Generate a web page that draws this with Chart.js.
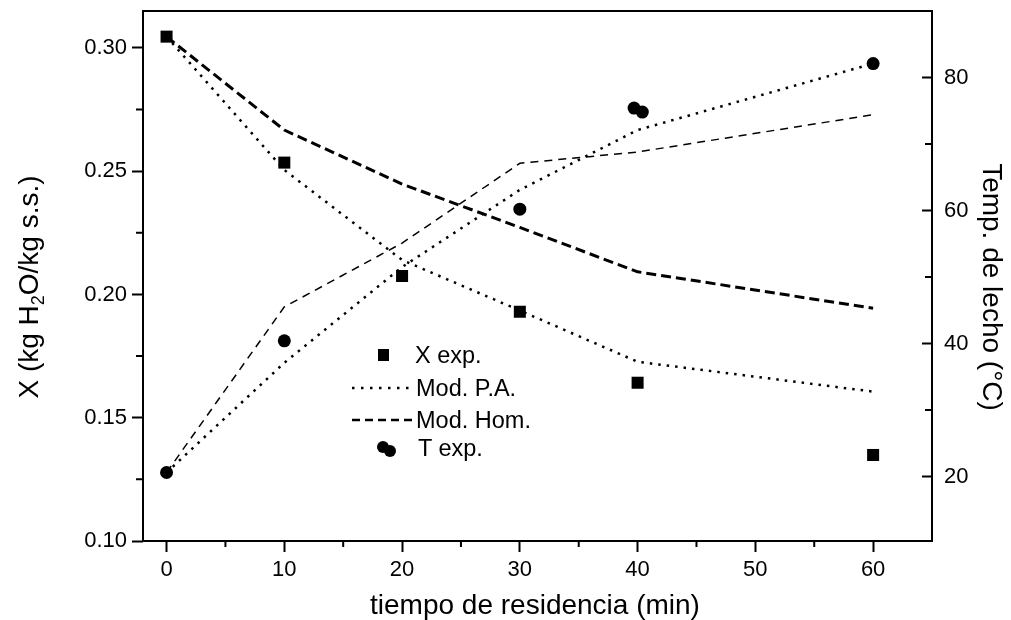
<!DOCTYPE html>
<html>
<head>
<meta charset="utf-8">
<script src="https://cdn.jsdelivr.net/npm/chart.js@4"></script>
<style>
    body { margin: 0; background: #fff; }
    #wrap { position: relative; width: 1011px; height: 620px; }
    #overlay { position: absolute; left: 0; top: 0; pointer-events: none; }
</style>
</head>
<body>
<div id="wrap">
    <canvas id="chart" width="1011" height="620"></canvas>
    <svg id="overlay" width="1011" height="620" font-family="'Liberation Sans', Arial, sans-serif" fill="#000">
        <!-- axis titles -->
        <text x="535" y="614" font-size="28" text-anchor="middle">tiempo de residencia (min)</text>
        <text transform="translate(38,287) rotate(-90)" font-size="28" text-anchor="middle">X (kg H<tspan dy="6" font-size="18">2</tspan><tspan dy="-6">O/kg s.s.)</tspan></text>
        <text transform="translate(983,287) rotate(90)" font-size="28" text-anchor="middle">Temp. de lecho (°C)</text>
        <!-- legend -->
        <rect x="378" y="349" width="11" height="12"></rect>
        <text x="415" y="363" font-size="23.5">X exp.</text>
        <line x1="352" y1="388" x2="413" y2="388" stroke="#000" stroke-width="2.5" stroke-dasharray="2.5 6.5"></line>
        <text x="416" y="396" font-size="23.5">Mod. P.A.</text>
        <line x1="352" y1="420" x2="414" y2="420" stroke="#000" stroke-width="2.5" stroke-dasharray="8 5"></line>
        <text x="416" y="428" font-size="23.5">Mod. Hom.</text>
        <circle cx="383" cy="447" r="6"></circle>
        <circle cx="390" cy="451" r="6"></circle>
        <text x="418" y="456" font-size="23.5">T exp.</text>
    </svg>
</div>
<script>
// Moisture content X (left axis)
const xExpTimes = [0, 10, 20, 30, 40, 60];
const xExp = [0.3046, 0.2535, 0.2075, 0.193, 0.1642, 0.1349];
const modTimes = [0, 10, 20, 30, 40, 60];
const xModPA = [0.3046, 0.2505, 0.214, 0.1935, 0.1727, 0.1606];
const xModHom = [0.3046, 0.2667, 0.2448, 0.2272, 0.2092, 0.1944];

// Bed temperature (right axis)
const tExpTimes = [0, 10, 30, 39.7, 40.4, 60];
const tExp = [20.6, 40.4, 60.2, 75.4, 74.8, 82.1];
const tModPA = [20.6, 37.1, 51.5, 63.1, 72.1, 82.1];
const tModHom = [20.6, 45.5, 55.1, 67.1, 68.8, 74.4];

// Tick labels
const xTicks = [0, 10, 20, 30, 40, 50, 60];
const xMinor = [5, 15, 25, 35, 45, 55];
const yTicks = [0.10, 0.15, 0.20, 0.25, 0.30];
const yMinor = [0.125, 0.175, 0.225, 0.275];
const tTicks = [20, 40, 60, 80];
const tMinor = [30, 50, 70];

const FONT = "'Liberation Sans', Arial, sans-serif";

const pts = (xs, ys) => xs.map((x, i) => ({ x: x, y: ys[i] }));

// frame box plus the minor ticks and the inward ticks of the right axis
const framePlugin = {
    id: 'frame',
    afterDraw(chart) {
        const { ctx, chartArea: a, scales } = chart;
        ctx.save();
        ctx.strokeStyle = '#000';
        ctx.lineWidth = 2;
        ctx.strokeRect(a.left, a.top, a.right - a.left, a.bottom - a.top);
        ctx.beginPath();
        xMinor.forEach(v => {
            const px = scales.x.getPixelForValue(v);
            ctx.moveTo(px, a.bottom);
            ctx.lineTo(px, a.bottom + 6);
        });
        yMinor.forEach(v => {
            const py = scales.y.getPixelForValue(v);
            ctx.moveTo(a.left, py);
            ctx.lineTo(a.left - 7, py);
        });
        tTicks.forEach(v => {
            const py = scales.y2.getPixelForValue(v);
            ctx.moveTo(a.right, py);
            ctx.lineTo(a.right - 10, py);
        });
        tMinor.forEach(v => {
            const py = scales.y2.getPixelForValue(v);
            ctx.moveTo(a.right, py);
            ctx.lineTo(a.right - 7, py);
        });
        ctx.stroke();
        ctx.restore();
    }
};

const tickFont = { family: FONT, size: 22 };

new Chart(document.getElementById('chart').getContext('2d'), {
    type: 'line',
    data: {
        datasets: [
            {
                label: 'X exp.',
                data: pts(xExpTimes, xExp),
                yAxisID: 'y',
                showLine: false,
                pointStyle: 'rect',
                pointRadius: 8.5,
                backgroundColor: '#000',
                borderColor: '#000',
                borderWidth: 0
            },
            {
                label: 'T exp.',
                data: pts(tExpTimes, tExp),
                yAxisID: 'y2',
                showLine: false,
                pointStyle: 'circle',
                pointRadius: 6.5,
                backgroundColor: '#000',
                borderColor: '#000',
                borderWidth: 0
            },
            {
                label: 'Mod. P.A.',
                data: pts(modTimes, xModPA),
                yAxisID: 'y',
                borderColor: '#000',
                borderWidth: 2.5,
                borderDash: [2.5, 6],
                pointRadius: 0,
                tension: 0
            },
            {
                label: 'Mod. Hom.',
                data: pts(modTimes, xModHom),
                yAxisID: 'y',
                borderColor: '#000',
                borderWidth: 3,
                borderDash: [10, 5],
                pointRadius: 0,
                tension: 0
            },
            {
                label: 'Mod. P.A. (T)',
                data: pts(modTimes, tModPA),
                yAxisID: 'y2',
                borderColor: '#000',
                borderWidth: 2.5,
                borderDash: [2.5, 6],
                pointRadius: 0,
                tension: 0
            },
            {
                label: 'Mod. Hom. (T)',
                data: pts(modTimes, tModHom),
                yAxisID: 'y2',
                borderColor: '#000',
                borderWidth: 1.5,
                borderDash: [8, 6],
                pointRadius: 0,
                tension: 0
            }
        ]
    },
    options: {
        responsive: false,
        animation: false,
        layout: { padding: { top: 11, left: 0, right: 0, bottom: 0 } },
        plugins: {
            legend: { display: false },
            tooltip: { enabled: false }
        },
        scales: {
            x: {
                type: 'linear',
                position: 'bottom',
                min: -2,
                max: 65,
                afterBuildTicks: s => { s.ticks = xTicks.map(v => ({ value: v })); },
                afterFit: s => { s.height = 79; s.paddingLeft = 0; s.paddingRight = 0; },
                border: { display: false },
                grid: { drawOnChartArea: false, tickLength: 11, tickWidth: 2, tickColor: '#000' },
                ticks: { color: '#000', font: tickFont, padding: 5, maxRotation: 0, autoSkip: false }
            },
            y: {
                type: 'linear',
                position: 'left',
                min: 0.10,
                max: 0.315,
                afterBuildTicks: s => { s.ticks = yTicks.map(v => ({ value: v })); },
                afterFit: s => { s.width = 143; s.paddingTop = 0; s.paddingBottom = 0; },
                border: { display: false },
                grid: { drawOnChartArea: false, tickLength: 11, tickWidth: 2, tickColor: '#000' },
                ticks: { color: '#000', font: tickFont, padding: 5, callback: v => v.toFixed(2) }
            },
            y2: {
                type: 'linear',
                position: 'right',
                min: 10.3,
                max: 90,
                afterBuildTicks: s => { s.ticks = tTicks.map(v => ({ value: v })); },
                afterFit: s => { s.width = 79; s.paddingTop = 0; s.paddingBottom = 0; },
                border: { display: false },
                grid: { drawOnChartArea: false, drawTicks: false },
                ticks: { color: '#000', font: tickFont, padding: 12 }
            }
        }
    },
    plugins: [framePlugin]
});
</script>
</body>
</html>
